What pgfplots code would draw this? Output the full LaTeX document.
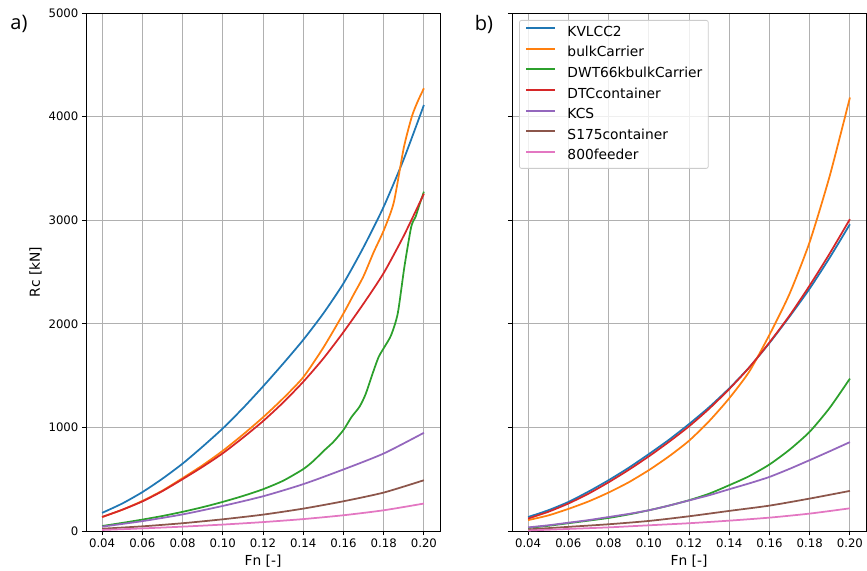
\documentclass[border=0pt]{standalone}
\usepackage{fontspec}
\setmainfont{DejaVu Sans}
\newfontfamily\panelfont{Open Sans}
\usepackage{pgfplots}
\pgfplotsset{compat=1.18}

\definecolor{c0}{HTML}{1F77B4}
\definecolor{c1}{HTML}{FF7F0E}
\definecolor{c2}{HTML}{2CA02C}
\definecolor{c3}{HTML}{D62728}
\definecolor{c4}{HTML}{9467BD}
\definecolor{c5}{HTML}{8C564B}
\definecolor{c6}{HTML}{E377C2}
\definecolor{gridgray}{HTML}{B0B0B0}
\definecolor{legendgray}{HTML}{CCCCCC}

\pgfplotsset{panel/.style={
  scale only axis, width=354pt, height=518pt,
  xmin=0.032, xmax=0.208, ymin=0, ymax=5000,
  xtick={0.04,0.06,0.08,0.10,0.12,0.14,0.16,0.18,0.20},
  ytick={0,1000,2000,3000,4000,5000},
  xtick pos=lower, ytick pos=left,
  grid=major, grid style={color=gridgray, line width=0.94pt},
  axis line style={line width=0.94pt},
  tick style={black, line width=0.94pt},
  tick align=outside, major tick length=4.1pt,
  tick label style={font=\fontsize{11.7}{14}\selectfont},
  xticklabel style={/pgf/number format/.cd, fixed, fixed zerofill, precision=2, assume math mode=true},
  yticklabel style={/pgf/number format/.cd, set thousands separator={}, assume math mode=true},
  scaled ticks=false,
  label style={font=\fontsize{13.8}{16}\selectfont},
  xlabel={Fn [-]},
  xlabel style={at={(axis description cs:0.5,-0.058)}, anchor=center},
  every axis plot/.append style={line width=1.75pt, smooth, tension=0.4},
}}

\begin{document}
\begin{tikzpicture}
\path[use as bounding box] (-86pt,-39pt) rectangle (781pt,531pt);

\begin{axis}[panel, at={(0pt,0pt)}, anchor=south west,
  ylabel={Rc [kN]},
  ylabel style={at={(axis description cs:-0.1427,0.5)}, anchor=center}]
\addplot[c0] coordinates {(0.04,175)(0.05,265)(0.06,375)(0.07,505)(0.08,650)(0.09,815)(0.10,990)(0.11,1185)(0.12,1395)(0.13,1615)(0.14,1845)(0.15,2100)(0.16,2390)(0.17,2740)(0.18,3130)(0.19,3590)(0.20,4112)};
\addplot[c1] coordinates {(0.04,135)(0.05,205)(0.06,290)(0.07,390)(0.08,510)(0.09,635)(0.10,774)(0.11,930)(0.12,1097)(0.13,1280)(0.14,1484)(0.15,1770)(0.16,2100)(0.165,2280)(0.17,2460)(0.175,2690)(0.18,2900)(0.185,3170)(0.19,3700)(0.194,4000)(0.197,4150)(0.20,4273)};
\addplot[c2] coordinates {(0.04,48)(0.05,78)(0.06,110)(0.07,145)(0.08,185)(0.09,230)(0.10,281)(0.11,338)(0.12,403)(0.13,485)(0.14,597)(0.145,675)(0.15,770)(0.155,860)(0.16,975)(0.164,1100)(0.168,1200)(0.171,1320)(0.1745,1520)(0.1775,1680)(0.1805,1780)(0.1837,1890)(0.187,2100)(0.1903,2550)(0.1937,2937)(0.1958,3030)(0.1978,3150)(0.20,3275)};
\addplot[c3] coordinates {(0.04,135)(0.05,205)(0.06,285)(0.07,385)(0.08,500)(0.09,620)(0.10,750)(0.11,900)(0.12,1060)(0.13,1240)(0.14,1440)(0.15,1665)(0.16,1920)(0.17,2195)(0.18,2490)(0.19,2850)(0.20,3255)};
\addplot[c4] coordinates {(0.04,42)(0.06,95)(0.08,160)(0.10,242)(0.12,335)(0.14,452)(0.16,594)(0.18,748)(0.20,948)};
\addplot[c5] coordinates {(0.04,22)(0.06,45)(0.08,75)(0.10,113)(0.12,158)(0.14,216)(0.16,287)(0.18,371)(0.20,490)};
\addplot[c6] coordinates {(0.04,10)(0.06,25)(0.08,42)(0.10,62)(0.12,86)(0.14,115)(0.16,152)(0.18,200)(0.20,265)};
\end{axis}

\begin{axis}[panel, at={(426pt,0pt)}, anchor=south west,
  yticklabels={},
  legend cell align=left,
  legend style={at={(axis description cs:0.02,0.9865)}, anchor=north west,
    draw=legendgray, line width=0.8pt, rounded corners=2pt, fill=white, fill opacity=0.8, text opacity=1, draw opacity=1,
    font=\fontsize{13.8}{16}\selectfont,
    inner xsep=6pt, inner ysep=5.7pt, row sep=7.6pt, column sep=11pt,
    nodes={inner sep=0pt, text height=10.2pt, text depth=2.8pt}},
  legend image code/.code={\draw[#1, line width=2pt, sharp plot, draw opacity=1] (0pt,4.3pt) -- (29pt,4.3pt);}]
\addplot[c0] coordinates {(0.04,135)(0.05,200)(0.06,280)(0.07,380)(0.08,490)(0.09,610)(0.10,742)(0.11,880)(0.12,1032)(0.13,1195)(0.14,1377)(0.15,1580)(0.16,1815)(0.17,2070)(0.18,2340)(0.19,2640)(0.20,2961)};
\addlegendentry{KVLCC2}
\addplot[c1] coordinates {(0.04,105)(0.05,150)(0.06,213)(0.07,285)(0.08,371)(0.09,470)(0.10,587)(0.11,720)(0.12,871)(0.13,1060)(0.14,1281)(0.15,1540)(0.16,1894)(0.17,2290)(0.18,2790)(0.19,3430)(0.20,4184)};
\addlegendentry{bulkCarrier}
\addplot[c2] coordinates {(0.04,30)(0.05,50)(0.06,75)(0.07,100)(0.08,126)(0.09,160)(0.10,200)(0.11,245)(0.12,297)(0.13,360)(0.14,442)(0.15,530)(0.16,642)(0.17,785)(0.18,958)(0.19,1190)(0.20,1471)};
\addlegendentry{DWT66kbulkCarrier}
\addplot[c3] coordinates {(0.04,120)(0.05,185)(0.06,265)(0.07,360)(0.08,470)(0.09,590)(0.10,720)(0.11,860)(0.12,1010)(0.13,1180)(0.14,1370)(0.15,1580)(0.16,1820)(0.17,2080)(0.18,2370)(0.19,2680)(0.20,3010)};
\addlegendentry{DTCcontainer}
\addplot[c4] coordinates {(0.04,35)(0.05,55)(0.06,80)(0.07,105)(0.08,135)(0.09,165)(0.10,200)(0.11,245)(0.12,295)(0.13,345)(0.14,403)(0.15,460)(0.16,522)(0.17,600)(0.18,684)(0.19,770)(0.20,858)};
\addlegendentry{KCS}
\addplot[c5] coordinates {(0.04,15)(0.06,40)(0.08,65)(0.10,97)(0.12,142)(0.14,194)(0.16,245)(0.18,313)(0.20,387)};
\addlegendentry{S175container}
\addplot[c6] coordinates {(0.04,5)(0.06,20)(0.08,35)(0.10,55)(0.12,75)(0.14,100)(0.16,129)(0.18,168)(0.20,219)};
\addlegendentry{800feeder}
\end{axis}

\node[font=\panelfont\fontsize{20}{24}\selectfont, anchor=center] at (-67pt,507pt) {a)};
\node[font=\panelfont\fontsize{20}{24}\selectfont, anchor=center] at (398pt,507pt) {b)};
\end{tikzpicture}
\end{document}
